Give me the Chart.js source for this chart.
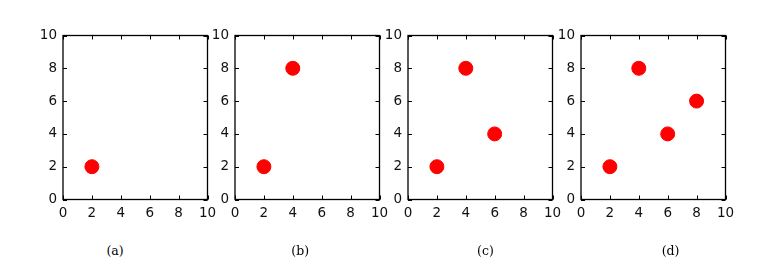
<!DOCTYPE html>
<html>
<head>
<meta charset="utf-8">
<script src="https://cdn.jsdelivr.net/npm/chart.js@4.4.1/dist/chart.umd.min.js"></script>
<style>
  html, body { margin: 0; padding: 0; background: #fff; }
  #wrap { position: relative; width: 763px; height: 275px; overflow: hidden; }
  canvas { position: absolute; top: 0; }
  .cap {
    position: absolute; top: 243px; width: 60px; text-align: center;
    font-family: "DejaVu Serif", serif; font-size: 12.5px; color: #000;
  }
</style>
</head>
<body>
<div id="wrap"></div>
<script>
  // values
  const captions = ["(a)", "(b)", "(c)", "(d)"];
  const pointX = [2, 4, 6, 8];
  const pointY = [2, 8, 4, 6];
  const tickValues = [0, 2, 4, 6, 8, 10];

  const wrap = document.getElementById("wrap");

  // matplotlib-style frame with inward ticks on all four sides
  const frameTicks = {
    id: "frameTicks",
    afterDraw(chart) {
      const ctx = chart.ctx;
      const a = chart.chartArea;
      const xs = chart.scales.x, ys = chart.scales.y;
      const len = 4;
      ctx.save();
      ctx.strokeStyle = "#000";
      ctx.lineWidth = 1;
      ctx.beginPath();
      tickValues.forEach(v => {
        const px = Math.round(xs.getPixelForValue(v)) + 0.5;
        ctx.moveTo(px, a.bottom); ctx.lineTo(px, a.bottom - len);
        ctx.moveTo(px, a.top); ctx.lineTo(px, a.top + len);
        const py = Math.round(ys.getPixelForValue(v)) + 0.5;
        ctx.moveTo(a.left, py); ctx.lineTo(a.left + len, py);
        ctx.moveTo(a.right, py); ctx.lineTo(a.right - len, py);
      });
      ctx.stroke();
      ctx.lineWidth = 1.3;
      ctx.strokeRect(a.left, a.top, a.right - a.left, a.bottom - a.top);
      ctx.restore();
    }
  };

  const tickFont = { family: "DejaVu Sans", size: 13.5 };

  captions.forEach((cap, i) => {
    const areaLeft = 62.5 + 172.7 * i;
    const canvas = document.createElement("canvas");
    canvas.width = 201;
    canvas.height = 230;
    canvas.style.width = "201px";
    canvas.style.height = "230px";
    canvas.style.left = (areaLeft - 40) + "px";
    wrap.appendChild(canvas);

    const pts = pointX.slice(0, i + 1).map((x, k) => ({ x: x, y: pointY[k] }));

    new Chart(canvas, {
      type: "scatter",
      data: {
        datasets: [{
          data: pts,
          backgroundColor: "#ff0000",
          borderColor: "#ff0000",
          borderWidth: 1,
          pointRadius: 7,
          pointHoverRadius: 7
        }]
      },
      options: {
        responsive: false,
        animation: false,
        layout: { padding: { left: 8, top: 35.5, right: 16.5, bottom: 0 } },
        plugins: { legend: { display: false }, tooltip: { enabled: false } },
        scales: {
          x: {
            type: "linear", min: 0, max: 10,
            grid: { display: false, drawTicks: false },
            border: { display: false },
            afterBuildTicks: s => { s.ticks = tickValues.map(v => ({ value: v })); },
            afterFit: s => { s.height = 30.5; },
            ticks: { color: "#111", font: tickFont, padding: 6, maxRotation: 0, autoSkip: false }
          },
          y: {
            type: "linear", min: 0, max: 10,
            grid: { display: false, drawTicks: false },
            border: { display: false },
            afterBuildTicks: s => { s.ticks = tickValues.map(v => ({ value: v })); },
            afterFit: s => { s.width = 32; },
            ticks: { color: "#111", font: tickFont, padding: 6, autoSkip: false }
          }
        }
      },
      plugins: [frameTicks]
    });

    const c = document.createElement("div");
    c.className = "cap";
    c.textContent = cap;
    c.style.left = (115 + 185.2 * i - 30) + "px";
    wrap.appendChild(c);
  });
</script>
</body>
</html>
